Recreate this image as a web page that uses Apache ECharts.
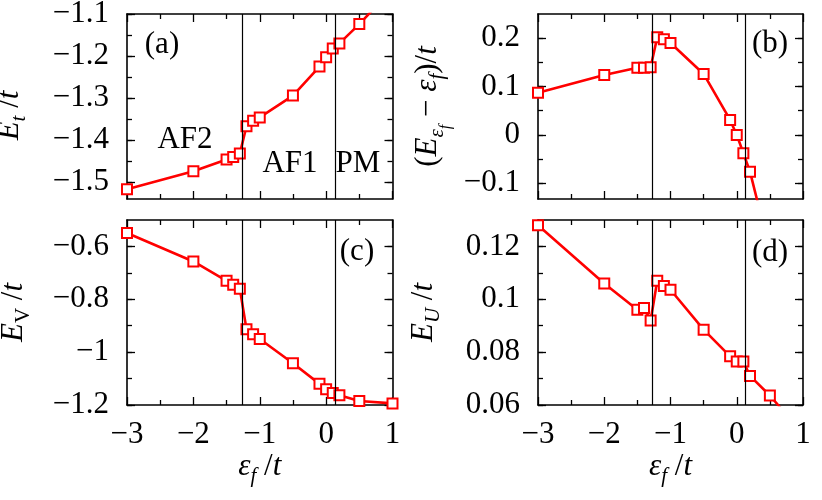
<!DOCTYPE html>
<html>
<head>
<meta charset="utf-8">
<script src="https://cdn.jsdelivr.net/npm/echarts@6/dist/echarts.min.js"></script>
<style>html,body{margin:0;padding:0;background:#fff}#c{width:822px;height:500px}</style>
</head>
<body>
<div id="c"></div>
<script>
// ---- data ----
var epsF = [-3, -2, -1.5, -1.4, -1.3, -1.2, -1.1, -1, -0.5, -0.1, 0, 0.1, 0.2, 0.5, 1];
var Et   = [-1.517, -1.474, -1.446, -1.440, -1.432, -1.367, -1.354, -1.346, -1.294, -1.225, -1.203, -1.182, -1.170, -1.124, -1.040];
var Eeps = [0.087, 0.124, 0.139, 0.139, 0.140, 0.202, 0.198, 0.190, 0.126, 0.031, 0.000, -0.038, -0.076, -0.240, -0.500];
var EV   = [-0.549, -0.657, -0.730, -0.745, -0.760, -0.913, -0.932, -0.950, -1.042, -1.120, -1.140, -1.155, -1.163, -1.185, -1.194];
var EU   = [0.128, 0.106, 0.096, 0.0967, 0.092, 0.107, 0.105, 0.1036, 0.0885, 0.0784, 0.0765, 0.0765, 0.071, 0.0636, 0.049];
var phaseBounds = [-1.27, 0.13];

// tick values
var xTicks = [-3, -2, -1, 0, 1];
var yMajorA = [-1.5, -1.4, -1.3, -1.2, -1.1];
var yMinorA = [-1.5, -1.45, -1.4, -1.35, -1.3, -1.25, -1.2, -1.15, -1.1];
var yMajorB = [-0.1, 0, 0.1, 0.2];
var yMinorB = [-0.1, -0.05, 0, 0.05, 0.1, 0.15, 0.2];
var yMajorC = [-1.2, -1, -0.8, -0.6];
var yMinorC = [-1.2, -1.1, -1, -0.9, -0.8, -0.7, -0.6];
var yMajorD = [0.06, 0.08, 0.1, 0.12];
var yMinorD = [0.06, 0.07, 0.08, 0.09, 0.1, 0.11, 0.12];

var FONT = 'Liberation Serif';
var FS = 31;
var RED = '#ff0000';

var rich = {
  i:  {fontFamily: FONT, fontStyle: 'italic', fontSize: FS, verticalAlign: 'top', color: '#000'},
  n:  {fontFamily: FONT, fontSize: FS, verticalAlign: 'top', color: '#000'},
  s:  {fontFamily: FONT, fontStyle: 'italic', fontSize: 21, verticalAlign: 'top', padding: [15, 0, 0, 0], color: '#000'},
  su: {fontFamily: FONT, fontSize: 21, verticalAlign: 'top', padding: [15, 0, 0, 0], color: '#000'},
  ss: {fontFamily: FONT, fontStyle: 'italic', fontSize: 16, verticalAlign: 'top', padding: [26, 0, 0, 0], color: '#000'},
  sp: {fontFamily: FONT, fontSize: FS, verticalAlign: 'top', width: 18, color: 'rgba(0,0,0,0)'}
};

var panels = [
  {grid: {left: 127, top: 14, width: 265.5, height: 185}, ys: Et,   min: -1.54, max: -1.1, major: yMajorA, minor: yMinorA, xLabel: false,
   name: '{i|E}{s|t}{n| /}{i|t}{sp| }', gap: 97},
  {grid: {left: 538, top: 14, width: 265, height: 185},   ys: Eeps, min: -0.1325, max: 0.25, major: yMajorB, minor: yMinorB, xLabel: false,
   name: '{n|(}{i|E}{s|ε}{ss|f}{n| − }{i|ε}{s|f}{n|)/}{i|t}', gap: 84},
  {grid: {left: 127, top: 220, width: 265.5, height: 185}, ys: EV,  min: -1.2, max: -0.5, major: yMajorC, minor: yMinorC, xLabel: true,
   name: '{i|E}{su|V}{n| /}{i|t}', gap: 93},
  {grid: {left: 538, top: 220, width: 265, height: 185},   ys: EU,  min: 0.06, max: 0.13, major: yMajorD, minor: yMinorD, xLabel: true,
   name: '{i|E}{s|U}{n| /}{i|t}', gap: 94}
];

function fmt(v) { return String(v).replace('-', '\u2212'); }

var axisLineStyle = {color: '#000', width: 1.6};
var tickLineStyle = {color: '#000', width: 1.3};

var grids = [], xAxes = [], yAxes = [], series = [];
panels.forEach(function (p, i) {
  grids.push(Object.assign({outerBoundsMode: 'none', containLabel: false}, p.grid));
  ['bottom', 'top'].forEach(function (pos) {
    var showLab = pos === 'bottom' && p.xLabel;
    xAxes.push({
      type: 'value', gridIndex: i, position: pos, min: -3, max: 1, interval: 1,
      axisLine: {show: true, onZero: false, lineStyle: axisLineStyle},
      axisTick: {show: true, inside: true, length: 8, lineStyle: tickLineStyle},
      minorTick: {show: true, splitNumber: 2, length: 5, lineStyle: tickLineStyle},
      splitLine: {show: false}, minorSplitLine: {show: false},
      axisLabel: {show: showLab, margin: 14, fontFamily: FONT, fontSize: FS, color: '#000', formatter: fmt},
      name: showLab ? '{i|ε}{s|f}{n| /}{i|t}' : '',
      nameLocation: 'middle', nameGap: 41,
      nameTextStyle: {rich: rich, fontFamily: FONT, fontSize: FS}
    });
  });
  ['left', 'right'].forEach(function (pos) {
    // major
    yAxes.push({
      type: 'value', gridIndex: i, position: pos, min: p.min, max: p.max,
      axisLine: {show: true, onZero: false, lineStyle: axisLineStyle},
      axisTick: {show: true, inside: true, length: 8, customValues: p.major, lineStyle: tickLineStyle},
      splitLine: {show: false},
      axisLabel: {show: pos === 'left', customValues: p.major, margin: 18, fontFamily: FONT, fontSize: FS, color: '#000', formatter: fmt},
      name: pos === 'left' ? p.name : '',
      nameLocation: 'middle', nameGap: p.gap, nameRotate: 90,
      nameTextStyle: {rich: rich, fontFamily: FONT, fontSize: FS}
    });
    // minor
    yAxes.push({
      type: 'value', gridIndex: i, position: pos, min: p.min, max: p.max,
      axisLine: {show: false, onZero: false},
      axisTick: {show: true, inside: true, length: 5, customValues: p.minor, lineStyle: tickLineStyle},
      splitLine: {show: false},
      axisLabel: {show: false}
    });
  });
  series.push({
    type: 'line', xAxisIndex: 2 * i, yAxisIndex: 4 * i,
    data: epsF.map(function (x, j) { return [x, p.ys[j]]; }),
    symbol: 'emptyRect', symbolSize: 10, clip: true,
    lineStyle: {color: RED, width: 2.6},
    itemStyle: {color: RED, borderColor: RED, borderWidth: 2.3},
    emphasis: {disabled: true}, animation: false, z: 3,
    markLine: {
      silent: true, symbol: 'none', label: {show: false},
      lineStyle: {color: '#000', width: 1.2, type: 'solid'},
      emphasis: {disabled: true},
      data: phaseBounds.map(function (b) { return {xAxis: b}; })
    }
  });
});

function txt(s, x, y) {
  return {type: 'text', x: x, y: y, z: 10, silent: true,
    style: {text: s, fontFamily: FONT, fontSize: FS, fill: '#000', align: 'center', verticalAlign: 'middle'}};
}

var chart = echarts.init(document.getElementById('c'), null, {renderer: 'canvas'});
chart.setOption({
  animation: false,
  backgroundColor: '#fff',
  grid: grids, xAxis: xAxes, yAxis: yAxes, series: series,
  graphic: [
    txt('(a)', 162, 45), txt('(b)', 770, 44), txt('(c)', 357, 252), txt('(d)', 770, 253),
    txt('AF2', 185, 140), txt('AF1', 290, 164), txt('PM', 358, 164)
  ]
});
</script>
</body>
</html>
